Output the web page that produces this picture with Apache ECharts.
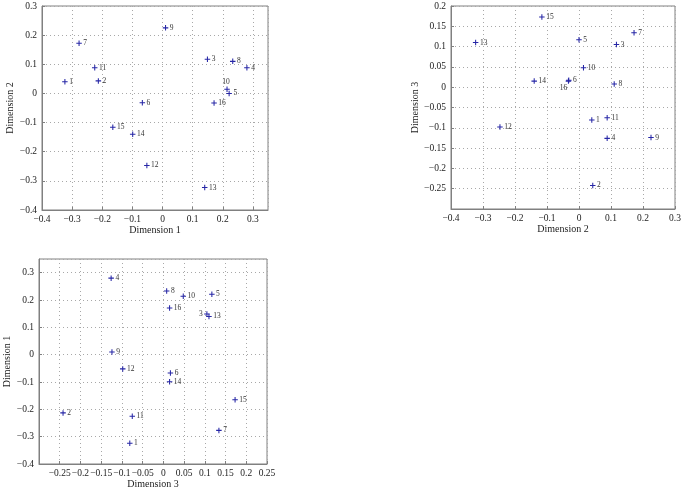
<!DOCTYPE html>
<html>
<head>
<meta charset="utf-8">
<script src="https://cdn.jsdelivr.net/npm/echarts@6/dist/echarts.min.js"></script>
<style>html,body{margin:0;padding:0;background:#fff}#c{width:685px;height:490px}</style>
</head>
<body>
<div id="c"></div>
<script>
const ids = ['1','2','3','4','5','6','7','8','9','10','11','12','13','14','15','16'];
const dim1 = [-0.324,-0.213,0.149,0.280,0.221,-0.067,-0.277,0.233,0.010,0.214,-0.225,-0.052,0.140,-0.099,-0.165,0.171];
const dim2 = [0.040,0.043,0.117,0.088,0.000,-0.032,0.172,0.110,0.225,0.014,0.088,-0.247,-0.323,-0.140,-0.116,-0.033];
const dim3 = [-0.081,-0.242,0.105,-0.126,0.117,0.017,0.134,0.008,-0.124,0.048,-0.075,-0.098,0.110,0.015,0.173,0.015];

const FONT = 'Liberation Serif';
const plus = 'path://M-0.19,-1H0.19V-0.19H1V0.19H0.19V1H-0.19V0.19H-1V-0.19H-0.19Z';
const fmt = v => { const r = parseFloat(v.toFixed(3)); return r === 0 ? '0' : (r < 0 ? '\u2212' + Math.abs(r) : String(r)); };

function axis(gi, min, max, interval, name, gap, isX, hideMin, hideMax) {
  return {
    gridIndex: gi, type: 'value', min, max, interval,
    name, nameLocation: 'middle', nameGap: gap,
    nameTextStyle: { fontFamily: FONT, fontSize: 10, color: '#222' },
    axisLine: { show: true, onZero: false, lineStyle: { color: '#808080', width: 1 } },
    axisTick: { show: true, inside: true, length: 3, lineStyle: { color: '#808080' } },
    axisLabel: { fontFamily: FONT, fontSize: 9.5, color: '#222', margin: isX ? 4 : 5, formatter: fmt, showMinLabel: !hideMin, showMaxLabel: !hideMax },
    splitLine: { show: true, lineStyle: { color: '#a8a8a8', type: [1, 3], width: 1 } }
  };
}

function pts(xs, ys, special) {
  return ids.map((id, i) => {
    const d = { value: [xs[i], ys[i]], name: id };
    if (special[id]) d.label = special[id];
    return d;
  });
}

function series(gi, data) {
  return {
    type: 'scatter', xAxisIndex: gi, yAxisIndex: gi, data,
    symbol: plus, symbolSize: 5.5,
    itemStyle: { color: '#2626a6', opacity: 1 },
    label: { show: true, position: 'right', distance: 1.5, formatter: p => p.name, fontFamily: FONT, fontSize: 7.5, color: '#333' },
    emphasis: { disabled: true }, animation: false
  };
}

const chart = echarts.init(document.getElementById('c'), null, { renderer: 'canvas' });
chart.setOption({
  backgroundColor: '#fff',
  animation: false,
  grid: [
    { left: 42, top: 6, width: 226, height: 204, show: true, borderColor: '#808080', borderWidth: 1, backgroundColor: 'transparent' },
    { left: 451, top: 6, width: 224, height: 203, show: true, borderColor: '#808080', borderWidth: 1, backgroundColor: 'transparent' },
    { left: 39, top: 259, width: 228, height: 205, show: true, borderColor: '#808080', borderWidth: 1, backgroundColor: 'transparent' }
  ],
  xAxis: [
    axis(0, -0.4, 0.35, 0.1, 'Dimension 1', 15, true, false, true),
    axis(1, -0.4, 0.3, 0.1, 'Dimension 2', 15, true, false, false),
    axis(2, -0.3, 0.25, 0.05, 'Dimension 3', 15, true, true, false)
  ],
  yAxis: [
    axis(0, -0.4, 0.3, 0.1, 'Dimension 2', 25, false, false, false),
    axis(1, -0.3, 0.2, 0.05, 'Dimension 3', 31, false, true, false),
    axis(2, -0.4, 0.35, 0.1, 'Dimension 1', 26, false, false, true)
  ],
  series: [
    series(0, pts(dim1, dim2, { '10': { position: 'top', distance: 1, offset: [-1, 0] } })),
    series(1, pts(dim2, dim3, { '16': { position: 'bottom', distance: 1, offset: [-5, -1] } })),
    series(2, pts(dim3, dim1, { '3': { position: 'left', distance: 1.5 } }))
  ]
});
</script>
</body>
</html>
